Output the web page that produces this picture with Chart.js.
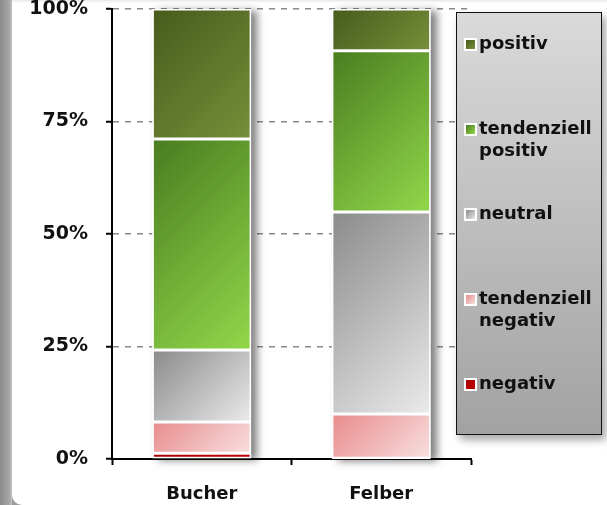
<!DOCTYPE html>
<html>
<head>
<meta charset="utf-8">
<script src="https://cdn.jsdelivr.net/npm/chart.js@4/dist/chart.umd.min.js"></script>
<style>
  html, body { margin: 0; padding: 0; }
  body { width: 607px; height: 505px; background: #9c9c9c; position: relative; overflow: hidden;
         font-family: "DejaVu Sans", Verdana, sans-serif; }
  #stripe { position: absolute; left: 0; top: 0; width: 12px; height: 505px;
            background: linear-gradient(to right, #8a8a8a, #a8a8a8 80%, #c4c4c4); }
  #panel { position: absolute; left: 12px; top: 0; width: 595px; height: 505px; background: #fff;
           border-bottom-left-radius: 10px;
           box-shadow: inset 0 3px 3px -2px rgba(0,0,0,0.12); }
  #wrap { position: absolute; left: 0; top: 0; width: 607px; height: 505px; }
  #legend { position: absolute; left: 456px; top: 12px; width: 144px; height: 402px;
            border: 1.5px solid #111;
            background: linear-gradient(to bottom, #dadada, #a2a2a2);
            box-shadow: 4px 5px 8px rgba(0,0,0,0.35); padding-top: 19px; box-sizing: content-box; }
  .item { height: 85px; position: relative; }
  .mark { position: absolute; left: 7px; top: 6px; width: 9px; height: 9px; border: 2px solid #fff; }
  .txt { position: absolute; left: 22px; top: 0; width: 120px; font-weight: bold; font-size: 18px;
         line-height: 22px; color: #111; }
</style>
</head>
<body>
<div id="stripe"></div>
<div id="panel"></div>
<div id="wrap"><canvas id="chart" width="607" height="505"></canvas></div>
<div id="legend"></div>
<script>
// categories and series (percent shares, stacked bottom to top)
const candidates = ["Bucher", "Felber"];
const seriesNames = ["negativ", "tendenziell negativ", "neutral", "tendenziell positiv", "positiv"];
const negativ = [1.3, 0];
const tendNegativ = [6.9, 10.0];
const neutral = [16.0, 44.9];
const tendPositiv = [46.9, 35.8];
const positiv = [28.9, 9.3];
const yTicks = [0, 25, 50, 75, 100];

// gradient stops, dark top-left to light bottom-right
const shades = [
  ["#a80000", "#c00000"],
  ["#e88c8c", "#f8e0e0"],
  ["#8a8a8a", "#ebebeb"],
  ["#4a7c20", "#92d84a"],
  ["#475a1c", "#76903a"]
];

const values = [negativ, tendNegativ, neutral, tendPositiv, positiv];

function barFill(context) {
  const chart = context.chart;
  const xs = chart.scales.x, ys = chart.scales.y;
  const ds = context.datasetIndex, i = context.dataIndex;
  const pair = shades[ds];
  if (!xs || !ys || i === undefined || !chart.chartArea) return pair[0];
  let base = 0;
  for (let k = 0; k < ds; k++) base += values[k][i];
  const top = base + values[ds][i];
  const cx = xs.getPixelForValue(i);
  const half = (xs.width / candidates.length) * 0.55 / 2;
  const x0 = cx - half, y0 = ys.getPixelForValue(top);
  const w = half * 2, h = ys.getPixelForValue(base) - y0;
  // 45 degree gradient
  const d = (w + h) / 2;
  const g = chart.ctx.createLinearGradient(x0, y0, x0 + d, y0 + d);
  g.addColorStop(0, pair[0]);
  g.addColorStop(1, pair[1]);
  return g;
}

// bar element clips to its own rect, so the drop shadow is drawn underneath first
const shadowPlugin = {
  id: 'barShadow',
  beforeDatasetsDraw(chart) {
    const c = chart.ctx;
    candidates.forEach((_, i) => {
      let top = Infinity, bottom = -Infinity, x = 0, w = 0;
      chart.data.datasets.forEach((ds, k) => {
        const el = chart.getDatasetMeta(k).data[i];
        if (!el) return;
        top = Math.min(top, el.y, el.base);
        bottom = Math.max(bottom, el.y, el.base);
        x = el.x; w = el.width;
      });
      if (!isFinite(top)) return;
      c.save();
      c.shadowColor = 'rgba(0,0,0,0.5)';
      c.shadowBlur = 8;
      c.shadowOffsetX = 6;
      c.shadowOffsetY = 2;
      c.fillStyle = '#ffffff';
      c.fillRect(x - w / 2, top, w, bottom - top);
      c.restore();
    });
  }
};

const ctx = document.getElementById('chart').getContext('2d');
const chart = new Chart(ctx, {
  type: 'bar',
  data: {
    labels: candidates,
    datasets: seriesNames.map((name, k) => ({
      label: name,
      data: values[k],
      backgroundColor: barFill,
      borderColor: '#ffffff',
      borderWidth: 1.5,
      borderSkipped: false,
      barPercentage: 0.55,
      categoryPercentage: 1.0
    }))
  },
  options: {
    responsive: false,
    animation: false,
    layout: { padding: { left: 12, top: 9, right: 136, bottom: 0 } },
    plugins: { legend: { display: false }, tooltip: { enabled: false } },
    scales: {
      x: {
        stacked: true,
        afterFit: (s) => { s.height = 46; s.paddingLeft = 0; s.paddingRight = 0; },
        grid: { drawOnChartArea: false, drawTicks: true, tickLength: 6, tickColor: '#000', tickWidth: 2, offset: true },
        border: { color: '#000', width: 2 },
        ticks: { color: '#111', padding: 19, font: { family: 'DejaVu Sans', size: 18, weight: 'bold' } }
      },
      y: {
        stacked: true,
        min: 0,
        max: 100,
        afterFit: (s) => { s.width = 100; s.paddingTop = 0; s.paddingBottom = 0; },
        afterBuildTicks: (s) => { s.ticks = yTicks.map(v => ({ value: v })); },
        grid: { color: '#8a8a8a', lineWidth: 1.5, drawTicks: true, tickLength: 6, tickColor: '#000',
                tickWidth: 2, tickBorderDash: [] },
        border: { color: '#000', width: 2, dash: [6, 6] },
        ticks: { color: '#111', padding: 18, callback: (v) => v + '%',
                 font: { family: 'DejaVu Sans', size: 19, weight: 'bold' } }
      }
    }
  },
  plugins: [shadowPlugin]
});

// legend, top series first
const legend = document.getElementById('legend');
for (let k = seriesNames.length - 1; k >= 0; k--) {
  const item = document.createElement('div');
  item.className = 'item';
  const mark = document.createElement('div');
  mark.className = 'mark';
  mark.style.background = 'linear-gradient(135deg, ' + shades[k][0] + ', ' + shades[k][1] + ')';
  const txt = document.createElement('div');
  txt.className = 'txt';
  txt.innerText = seriesNames[k];
  item.appendChild(mark);
  item.appendChild(txt);
  legend.appendChild(item);
}
</script>
</body>
</html>
